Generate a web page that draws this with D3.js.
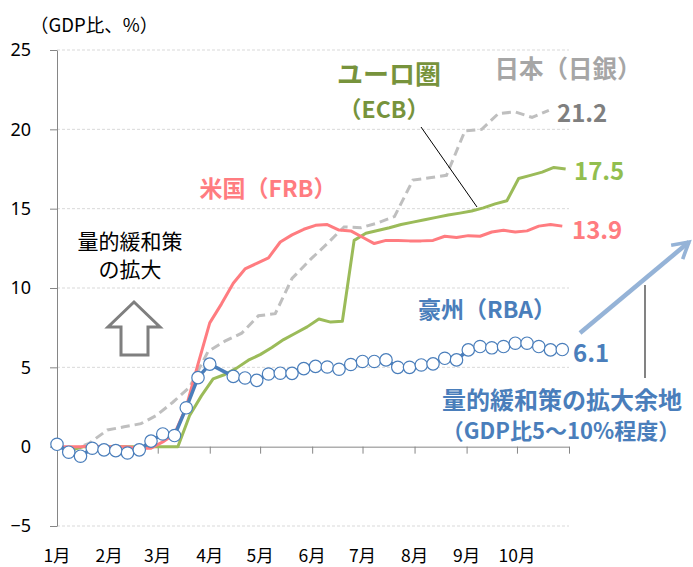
<!DOCTYPE html>
<html><head><meta charset="utf-8">
<script src="https://cdn.jsdelivr.net/npm/d3@7"></script>
<style>
body{margin:0;background:#fff;}
text{font-family:"Noto Sans CJK JP","Noto Sans",sans-serif;}
</style></head>
<body><svg id="c" width="693" height="567"></svg>
<script>
// ---- data ----
const monthLabels = ["1月","2月","3月","4月","5月","6月","7月","8月","9月","10月"];
const monthStarts = ["2020-01-01","2020-02-01","2020-03-01","2020-04-01","2020-05-01","2020-06-01","2020-07-01","2020-08-01","2020-09-01","2020-10-01","2020-11-01"];
const yTicks = [-5,0,5,10,15,20,25];
const weeklyStartWed = "2020-01-01"; // FRB / RBA weekly (Wednesday)
const weeklyStartFri = "2020-01-03"; // ECB weekly (Friday)
const frbValues = [0,0,0,0.05,0,0,0,-0.1,-0.1,0.3,0.8,2.5,5.2,7.8,9.0,10.3,11.2,11.55,11.9,12.9,13.35,13.7,13.95,14.0,13.65,13.6,13.2,12.8,13.0,13.0,12.97,12.97,13.0,13.26,13.18,13.3,13.26,13.53,13.64,13.53,13.6,13.9,14.0,13.9];
const ecbValues = [0,-0.2,0,0,0,0,0,0,0,0,0,1.96,3.2,4.27,4.55,4.95,5.45,5.8,6.25,6.75,7.15,7.55,8.05,7.85,7.9,13.0,13.45,13.62,13.8,14.0,14.15,14.3,14.45,14.6,14.72,14.85,15.05,15.3,15.5,16.9,17.1,17.3,17.6,17.5];
const rbaValues = [0.15,-0.35,-0.6,-0.1,-0.2,-0.25,-0.4,-0.2,0.35,0.8,0.7,2.45,4.35,5.2,null,4.43,4.33,4.18,4.58,4.63,4.62,4.92,5.06,5.02,4.88,5.18,5.37,5.37,5.47,5.0,5.0,5.15,5.22,5.57,5.47,6.1,6.31,6.23,6.31,6.52,6.52,6.31,6.1,6.12];
const bojDates = ["2020-01-01","2020-01-10","2020-01-20","2020-01-31","2020-02-10","2020-02-20","2020-02-29","2020-03-10","2020-03-20","2020-03-31","2020-04-10","2020-04-20","2020-04-30","2020-05-10","2020-05-20","2020-05-31","2020-06-10","2020-06-20","2020-06-30","2020-07-10","2020-07-20","2020-07-31","2020-08-10","2020-08-20","2020-08-31","2020-09-10","2020-09-20","2020-09-30","2020-10-10","2020-10-20"];
const bojValues = [0,-0.2,0.2,1.05,1.25,1.45,1.95,2.8,3.75,6.0,6.65,7.15,8.25,8.38,10.6,11.8,12.8,13.85,13.8,14.1,14.5,16.8,16.95,17.1,19.9,20.0,21.0,21.1,20.75,21.2];
const endLabels = {boj:"21.2", ecb:"17.5", frb:"13.9", rba:"6.1"};

// ---- setup ----
const svg = d3.select("#c");
svg.append("rect").attr("width",693).attr("height",567).attr("fill","#fff");
const parse = d3.utcParse("%Y-%m-%d");
const DAY = 864e5;
const weekly = (start, n) => d3.range(n).map(i => new Date(parse(start).getTime() + i*7*DAY));
const x = d3.scaleUtc().domain([parse("2020-01-01"), parse("2020-11-01")]).range([57,569]);
const y = d3.scaleLinear().domain([-5,25]).range([526,50]);

const frb = weekly(weeklyStartWed, frbValues.length).map((d,i)=>({d, v:frbValues[i]}));
const ecb = weekly(weeklyStartFri, ecbValues.length).map((d,i)=>({d, v:ecbValues[i]}));
const rba = weekly(weeklyStartWed, rbaValues.length).map((d,i)=>({d, v:rbaValues[i]})).filter(p=>p.v!==null);
const boj = bojDates.map((s,i)=>({d:parse(s), v:bojValues[i]}));

// gridlines
svg.append("g").selectAll("line").data(yTicks.filter(t=>t!==0)).join("line")
  .attr("x1",57).attr("x2",569).attr("y1",d=>y(d)).attr("y2",d=>y(d))
  .attr("stroke","#d9d9d9").attr("stroke-width",1).attr("stroke-dasharray","3,2");

// y axis
const ya = svg.append("g").attr("transform","translate(57,0)")
  .call(d3.axisLeft(y).tickValues(yTicks).tickSize(7).tickSizeOuter(0).tickPadding(19).tickFormat(d3.format("d")));
ya.select(".domain").attr("stroke","#868686");
ya.selectAll(".tick line").attr("stroke","#868686");
ya.selectAll("text").attr("font-size",18).attr("fill","#000").style("font-family","'Noto Sans','Noto Sans CJK JP',sans-serif");

// x axis at zero
const xa = svg.append("g").attr("transform",`translate(0,${y(0)})`)
  .call(d3.axisBottom(x).tickValues(monthStarts.map(parse)).tickSize(7).tickSizeOuter(0).tickFormat(""));
xa.select(".domain").attr("stroke","#868686");
xa.selectAll(".tick line").attr("stroke","#868686");
svg.append("g").selectAll("text").data(monthLabels).join("text")
  .attr("x",(d,i)=>x(parse(monthStarts[i]))).attr("y",554)
  .attr("text-anchor","middle").attr("dominant-baseline","central")
  .attr("font-size",17.5).attr("fill","#000").text(d=>d);

// axis title
svg.append("text").attr("x",30).attr("y",24).attr("dominant-baseline","central")
  .attr("font-size",18.5).attr("fill","#000").text("（GDP比、%）");

const line = d3.line().x(p=>x(p.d)).y(p=>y(p.v));

// series
svg.append("path").datum(boj).attr("d",line).attr("fill","none")
  .attr("stroke","#BFBFBF").attr("stroke-width",3).attr("stroke-dasharray","9,5");
svg.append("path").datum(ecb).attr("d",line).attr("fill","none")
  .attr("stroke","#9BBB59").attr("stroke-width",3).attr("stroke-linejoin","round");
svg.append("path").datum(frb).attr("d",line).attr("fill","none")
  .attr("stroke","#FF7C80").attr("stroke-width",3).attr("stroke-linejoin","round");
svg.append("path").datum(rba).attr("d",line).attr("fill","none")
  .attr("stroke","#4A7EBB").attr("stroke-width",3.5).attr("stroke-linejoin","round");
svg.append("g").selectAll("circle").data(rba).join("circle")
  .attr("cx",p=>x(p.d)).attr("cy",p=>y(p.v)).attr("r",6.2)
  .attr("fill","#fff").attr("stroke","#4A7EBB").attr("stroke-width",1.2);

// annotations
function label(txt, x0, cy, size, color, weight, anchor){
  return svg.append("text").attr("x",x0).attr("y",cy).attr("dominant-baseline","central")
    .attr("text-anchor",anchor||"start").attr("font-size",size).attr("font-weight",weight||"bold")
    .attr("fill",color).text(txt);
}
label("ユーロ圏",389,72,26,"#77933C","bold","middle");
label("（ECB）",384,108,23,"#77933C","bold","middle");
label("日本（日銀）",568,67,24.5,"#A6A6A6","bold","middle");
label("米国（FRB）",268,187,23,"#FF7C80","bold","middle");
label("豪州（RBA）",487,308,23,"#4A7EBB","bold","middle");
label(endLabels.boj,557,111,24,"#7F7F7F","bold");
label(endLabels.ecb,574,169,24,"#92BE4F","bold");
label(endLabels.frb,572,228,24,"#FF7C80","bold");
label(endLabels.rba,573,351,24,"#4A7EBB","bold");
label("量的緩和策の拡大余地",562,398,24,"#4A7EBB","bold","middle");
label("（GDP比5～10%程度）",561,429,22,"#4A7EBB","bold","middle");
label("量的緩和策",130,240,21,"#000","normal","middle");
label("の拡大",130,268,21,"#000","normal","middle");

// leader lines
svg.append("line").attr("x1",421).attr("y1",127).attr("x2",477).attr("y2",207).attr("stroke","#000").attr("stroke-width",1);
svg.append("line").attr("x1",645).attr("y1",285).attr("x2",645).attr("y2",378).attr("stroke","#404040").attr("stroke-width",1.3);

// blue arrow
svg.append("defs").append("marker").attr("id","ah").attr("viewBox","0 0 10 10").attr("refX",8).attr("refY",5)
  .attr("markerWidth",5).attr("markerHeight",5).attr("orient","auto").attr("markerUnits","strokeWidth")
  .append("path").attr("d","M1,1 L8,5 L1,9").attr("fill","none").attr("stroke","#95B3D7").attr("stroke-width",1.6);
svg.append("line").attr("x1",580).attr("y1",333).attr("x2",689).attr("y2",242)
  .attr("stroke","#95B3D7").attr("stroke-width",4.5).attr("marker-end","url(#ah)");

// up block arrow
svg.append("path").attr("d","M134,302 L160,327 L148,327 L148,355 L121,355 L121,327 L108,327 Z")
  .attr("fill","#fff").attr("stroke","#7F7F7F").attr("stroke-width",3).attr("stroke-linejoin","miter");
</script></body></html>
